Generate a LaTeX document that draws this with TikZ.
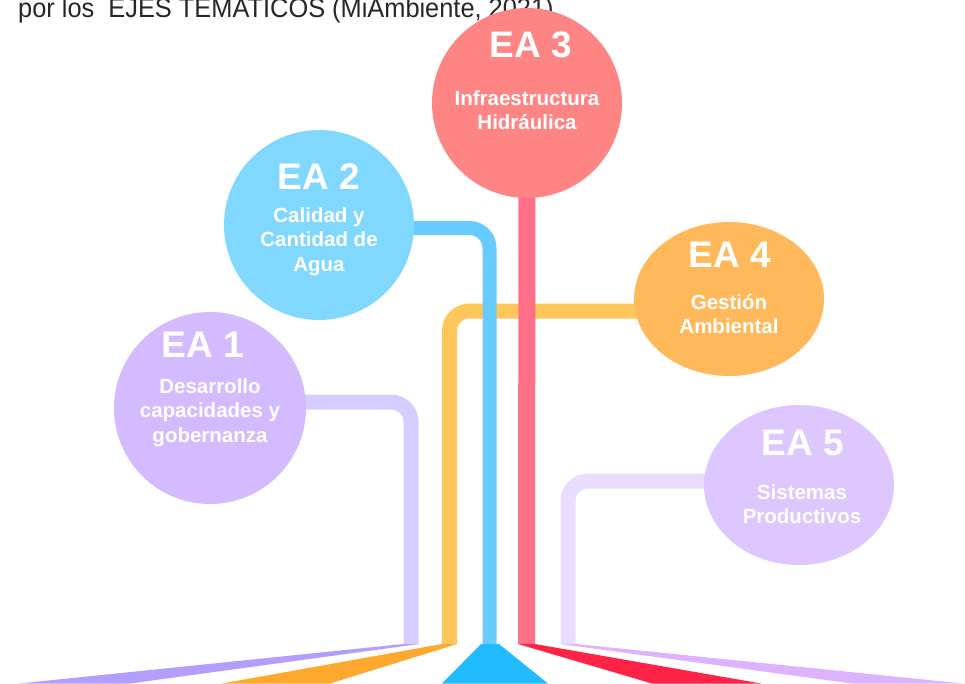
\documentclass[tikz,border=0pt]{standalone}
\usepackage{fontspec}
\setmainfont{Liberation Sans}
\usetikzlibrary{shapes.geometric}
\definecolor{cEAone}{HTML}{D4BAFF}
\definecolor{cEAtwo}{HTML}{80D8FF}
\definecolor{cEAthree}{HTML}{FF8585}
\definecolor{cEAfour}{HTML}{FFB95A}
\definecolor{cEAfive}{HTML}{DEC6FF}
\definecolor{barOne}{HTML}{D6CCFF}
\definecolor{barTwo}{HTML}{66CCFF}
\definecolor{barThree}{HTML}{FF6F87}
\definecolor{barFour}{HTML}{FFC65C}
\definecolor{barFive}{HTML}{E8DDFF}
\definecolor{fanOne}{HTML}{B39DFF}
\definecolor{fanTwo}{HTML}{22BBFF}
\definecolor{fanThree}{HTML}{FF2447}
\definecolor{fanFour}{HTML}{FFA82E}
\definecolor{fanFive}{HTML}{DDB3FF}
\definecolor{topgray}{HTML}{262626}
\tikzset{
  bubble/.style={circle, minimum size=190pt, inner sep=0pt, draw=none},
  oval/.style={ellipse, inner sep=0pt, draw=none},
  bar/.style={line width=15pt, rounded corners=20pt},
  title/.style={anchor=base, text=white, font=\fontsize{37}{37}\selectfont\bfseries, inner sep=0pt},
  sub/.style={anchor=base, text=white, font=\fontsize{20.5}{24.5}\selectfont\bfseries, inner sep=0pt},
}
\begin{document}
\begin{tikzpicture}[x=1pt,y=-1pt]
\useasboundingbox (0,0) rectangle (965,683);
\clip (0,0) rectangle (965,683);
% heading (cut off at the top)
\node[anchor=base west, inner sep=0pt, text=topgray, font=\fontsize{27}{27}\selectfont] (head) at (18,17.5) {\scalebox{0.94}[1]{por los~ EJES TEMATICOS (MiAmbiente, 2021)}};
% bar end points
\coordinate (b1) at (411,644);
\coordinate (b4) at (449.5,644);
\coordinate (b2) at (489.5,644);
\coordinate (b3) at (526.5,644);
\coordinate (b5) at (568,644);
% circle positions
\path (210,408) coordinate (p1) (319,225) coordinate (p2) (527,103) coordinate (p3) (729,299) coordinate (p4) (799,485) coordinate (p5);
% bars
\draw[bar, barOne] ([yshift=6pt]p1) -| (b1);
\draw[bar, barFive] ([yshift=4pt]p5) -| (b5);
\draw[bar, barFour] ([yshift=-12pt]p4) -| (b4);
\draw[bar, barTwo, line width=14pt] ([yshift=-3pt]p2) -| (b2);
\draw[barThree, line width=17pt] (p3) -- (b3);
% fans
\fill[fanOne] (403,644) -- (419,644) -- (130,683.5) -- (19,683.5) -- cycle;
\fill[fanFour] (442,644) -- (457,644) -- (330,683.5) -- (222,683.5) -- cycle;
\fill[fanTwo] (481,644) -- (499,644) -- (548,683.5) -- (442,683.5) -- cycle;
\fill[fanThree] (518,644) -- (535,644) -- (761,683.5) -- (652,683.5) -- cycle;
\fill[fanFive] (560,644) -- (576,644) -- (963,683.5) -- (852,683.5) -- cycle;
% circles
\node[bubble, fill=cEAone, minimum size=192pt] (ea1) at (p1) {};
\node[bubble, fill=cEAtwo] (ea2) at (p2) {};
\node[bubble, fill=cEAthree] (ea3) at (p3) {};
\node[oval, fill=cEAfour, minimum width=190pt, minimum height=154pt] (ea4) at (p4) {};
\node[oval, fill=cEAfive, minimum width=190pt, minimum height=160pt] (ea5) at (p5) {};
% texts
\node[title] (t1) at (203,357) {EA 1};
\node[sub] (s1a) at (210,393) {Desarrollo};
\node[sub] (s1b) at (210,417.5) {capacidades y};
\node[sub] (s1c) at (210,442) {gobernanza};
\node[title] (t2) at (319,189) {EA 2};
\node[sub] (s2a) at (319,222) {Calidad y};
\node[sub] (s2b) at (319,246.5) {Cantidad de};
\node[sub] (s2c) at (319,271) {Agua};
\node[title] (t3) at (531,57) {EA 3};
\node[sub] (s3a) at (527,105) {Infraestructura};
\node[sub] (s3b) at (527,129) {Hidráulica};
\node[title] (t4) at (730,267) {EA 4};
\node[sub] (s4a) at (729,309) {Gestión};
\node[sub] (s4b) at (729,333) {Ambiental};
\node[title] (t5) at (803,455) {EA 5};
\node[sub] (s5a) at (802,499) {Sistemas};
\node[sub] (s5b) at (802,523) {Productivos};
\end{tikzpicture}
\end{document}
